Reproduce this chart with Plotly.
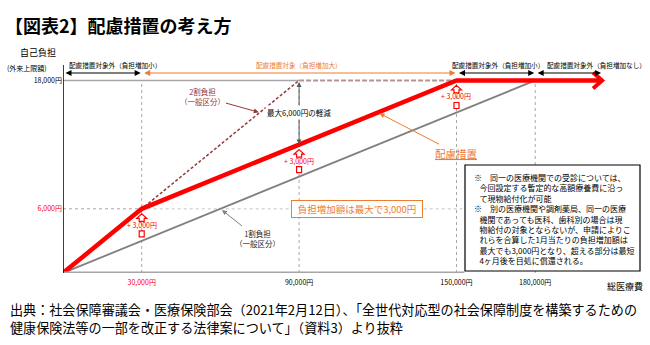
import numpy as np
import plotly.graph_objects as go

# ---- data (yen) ----
# 1割負担 (一般区分)
cost_1wari = [0, 180000]
pay_1wari = [0, 18000]
# 2割負担 (一般区分) up to the outpatient cap, then capped
cost_2wari = [0, 90000]
pay_2wari = [0, 18000]
cost_2wari_cap = [90000, 150000]
pay_2wari_cap = [18000, 18000]
# 配慮措置: 2割 until 30,000円, then 1割 + 3,000円, capped at 18,000円
cost_relief = [0, 30000, 150000, 205500]
pay_relief = [0, 6000, 18000, 18000]

outpatient_cap = 18000
relief_start = 6000
increase_cost = [30000, 90000, 150000]
increase_text = "+ 3,000円"
max_cut_cost = 90000

x_tick_vals = [30000, 90000, 150000, 180000]
x_tick_text = ["30,000円", "90,000円", "150,000円", "180,000円"]
y_tick_vals = [6000, 18000]
y_tick_text = ["6,000円", "18,000円"]

seg_x0 = [0, 30000, 150000, 180000]
seg_x1 = [30000, 150000, 180000, 205500]
seg_text = ["配慮措置対象外（負担増加小）", "配慮措置対象（負担増加大）",
            "配慮措置対象外（負担増加小）", "配慮措置対象外（負担増加なし）"]

note_lines = [
    "※　同一の医療機関での受診については、",
    "今回設定する暫定的な高額療養費に沿っ",
    "て現物給付化が可能",
    "※　別の医療機関や調剤薬局、同一の医療",
    "機関であっても医科、歯科別の場合は現",
    "物給付の対象とならないが、申請によりこ",
    "れらを合算した1月当たりの負担増加額は",
    "最大でも3,000円となり、超える部分は最短",
    "4ヶ月後を目処に償還される。",
]

# ---- layout geometry ----
W, H = 650, 345
ML, MR, MT, MB = 63, 23, 59, 72
PW, PH = W - ML - MR, H - MT - MB
X_MAX, Y_MAX = 215000, 20000

FONT = "Noto Sans CJK JP"
RED = "#FF0000"
ORANGE = "#ED7D31"
GRAY = "#7F7F7F"
DARKRED = "#953735"


def px_x(px):
    return (px - ML) / PW


def px_y(py):
    return (H - MB - py) / PH


def data_y(py):
    return (H - MB - py) / PH * Y_MAX


def relief(x):
    return float(np.interp(x, cost_relief, pay_relief))


def one_tenth(x):
    return float(np.interp(x, cost_1wari, pay_1wari))


fig = go.Figure()
shapes = []
ann = []

# guide lines
for xv in x_tick_vals:
    shapes.append(dict(type="line", xref="x", yref="y", x0=xv, x1=xv, y0=0, y1=outpatient_cap,
                       line=dict(color="#A6A6A6", width=1, dash="dot"), layer="below"))
shapes.append(dict(type="line", xref="x", yref="y", x0=0, x1=cost_2wari[-1], y0=outpatient_cap,
                   y1=outpatient_cap, line=dict(color="#A6A6A6", width=1.5), layer="below"))
shapes.append(dict(type="line", xref="x", yref="y", x0=0, x1=cost_relief[1], y0=relief_start,
                   y1=relief_start, line=dict(color="#A6A6A6", width=1, dash="dot"), layer="below"))
shapes.append(dict(type="line", xref="x", yref="y", x0=cost_relief[1], x1=154000, y0=relief_start,
                   y1=relief_start, line=dict(color="#D9D9D9", width=1.5, dash="dot"), layer="below"))

# axes
shapes.append(dict(type="line", xref="x", yref="y", x0=0, x1=153000, y0=0, y1=0,
                   line=dict(color="#A6A6A6", width=3)))
shapes.append(dict(type="line", xref="x", yref="y", x0=0, x1=0, y0=0, y1=data_y(65),
                   line=dict(color="black", width=1.5)))

# series
fig.add_trace(go.Scatter(x=cost_1wari, y=pay_1wari, mode="lines",
                         line=dict(color=GRAY, width=1.8), hoverinfo="skip"))
fig.add_trace(go.Scatter(x=cost_2wari_cap, y=pay_2wari_cap, mode="lines",
                         line=dict(color="#B39494", width=2, dash="5px,2px"), hoverinfo="skip"))
fig.add_trace(go.Scatter(x=cost_2wari, y=pay_2wari, mode="lines",
                         line=dict(color=DARKRED, width=1.5, dash="3px,2px"), hoverinfo="skip"))
fig.add_trace(go.Scatter(x=cost_relief, y=pay_relief, mode="lines",
                         line=dict(color=RED, width=4.5), hoverinfo="skip"))

# open chevron at the end of the relief line
shapes.append(dict(type="path", xsizemode="pixel", ysizemode="pixel",
                   xanchor=cost_relief[-1], yanchor=pay_relief[-1], xref="x", yref="y",
                   path="M-9,8 L0,0 L-9,-8", line=dict(color=RED, width=4)))

# +3,000円 markers between the 1割 line and the relief line
for xv in increase_cost:
    top, bottom = relief(xv), one_tenth(xv)
    shapes.append(dict(type="path", xsizemode="pixel", ysizemode="pixel", xanchor=xv, yanchor=top,
                       xref="x", yref="y",
                       path="M0,-5 L5,-9.5 L2.5,-9.5 L2.5,-12.5 L-2.5,-12.5 L-2.5,-9.5 L-5,-9.5 Z",
                       line=dict(color=RED, width=1.2), fillcolor="white"))
    shapes.append(dict(type="path", xsizemode="pixel", ysizemode="pixel", xanchor=xv, yanchor=bottom,
                       xref="x", yref="y",
                       path="M-2.5,4 L2.5,4 L2.5,10 L-2.5,10 Z",
                       line=dict(color=RED, width=1.2), fillcolor="white"))
    ann.append(dict(x=xv, y=(top + bottom) / 2, xref="x", yref="y", text=increase_text,
                    showarrow=False, font=dict(size=7, color=RED, family=FONT)))

# range brackets along the top
band_arrow_y = data_y(73)
band_text_y = data_y(65)
seg_color = ["black", ORANGE, "black", "black"]
seg_anchor = ["left", "center", "center", "left"]
seg_shift = [4, 0, 2, 10]
for x0, x1, txt, col, anc, sh in zip(seg_x0, seg_x1, seg_text, seg_color, seg_anchor, seg_shift):
    ann.append(dict(x=x1, y=band_arrow_y, ax=x0, ay=band_arrow_y, xref="x", yref="y",
                    axref="x", ayref="y", text="", showarrow=True, arrowside="end+start",
                    arrowhead=2, startarrowhead=2, arrowsize=1, startarrowsize=1,
                    arrowwidth=1.2, arrowcolor=col, standoff=1, startstandoff=1))
    xpos = x0 if anc == "left" else (x0 + x1) / 2
    ann.append(dict(x=xpos, y=band_text_y, xref="x", yref="y", text=txt, showarrow=False,
                    xanchor=anc, yanchor="middle", xshift=sh,
                    font=dict(size=6.6, color=col, family=FONT)))

# maximum reduction at 90,000円
ann.append(dict(x=max_cut_cost, y=relief(max_cut_cost), ax=max_cut_cost, ay=outpatient_cap,
                xref="x", yref="y", axref="x", ayref="y", text="", showarrow=True,
                arrowside="end+start", arrowhead=2, startarrowhead=2, arrowsize=1,
                startarrowsize=1, arrowwidth=1, arrowcolor="#595959"))
ann.append(dict(x=max_cut_cost, y=(relief(max_cut_cost) + outpatient_cap) / 2, xref="x", yref="y",
                text="最大6,000円の軽減", showarrow=False, bgcolor="white", borderpad=1,
                font=dict(size=7.5, color="black", family=FONT)))

# series labels
ann.append(dict(x=75000, y=0.2 * 75000, ax=53000, ay=16500, xref="x", yref="y", axref="x",
                ayref="y", text="2割負担<br>（一般区分）", showarrow=True, arrowhead=2,
                arrowsize=1, arrowwidth=1, arrowcolor=DARKRED, standoff=1,
                font=dict(size=7.5, color=DARKRED, family=FONT)))
ann.append(dict(x=60000, y=one_tenth(60000), ax=74000, ay=3270, xref="x", yref="y", axref="x",
                ayref="y", text="1割負担<br>（一般区分）", showarrow=True, arrowhead=2,
                arrowsize=1, arrowwidth=1, arrowcolor=GRAY, standoff=2,
                font=dict(size=7.5, color="#262626", family=FONT)))
ann.append(dict(x=120000, y=relief(120000), ax=150000, ay=11200, xref="x", yref="y", axref="x",
                ayref="y", text="<span style='text-decoration:underline'>配慮措置</span>",
                showarrow=True, arrowhead=2, arrowsize=1, arrowwidth=1, arrowcolor=ORANGE,
                standoff=2, font=dict(size=10.5, color=ORANGE, family=FONT)))

# maximum increase callout
ann.append(dict(x=112000, y=relief_start, xref="x", yref="y", text="負担増加額は最大で3,000円",
                showarrow=False, bgcolor="white", bordercolor=ORANGE, borderwidth=1,
                width=127, height=13, borderpad=1.5,
                font=dict(size=9.5, color=ORANGE, family=FONT)))

# notes box
shapes.append(dict(type="rect", xref="paper", yref="paper", x0=px_x(465), x1=px_x(640),
                   y0=px_y(271), y1=px_y(165), line=dict(color="black", width=1.2),
                   fillcolor="white"))
note_text = "<br>".join(l if l.startswith("※") else "\u00a0\u00a0\u00a0" + l for l in note_lines)
ann.append(dict(x=px_x(472), y=px_y(170), xref="paper", yref="paper", text=note_text,
                showarrow=False, xanchor="left", yanchor="top", align="left",
                font=dict(size=8, color="black", family=FONT)))


def label(px, py, text, size, **kw):
    """Free text placed by its centre in page pixels."""
    ann.append(dict(x=px_x(px), y=px_y(py), xref="paper", yref="paper", text=text,
                    showarrow=False, xanchor=kw.pop("xanchor", "center"), yanchor="middle",
                    font=dict(size=size, color="black", family=FONT), **kw))


# axis titles and source
label(38, 52, "自己負担", 9)
label(27, 68, "(外来上限額)", 7)
label(625, 286, "総医療費", 9)
label(8, 309,
      "出典：社会保障審議会・医療保険部会（2021年2月12日）、「全世代対応型の社会保障制度を構築するための",
      13.1, xanchor="left")
label(8, 327.5, "健康保険法等の一部を改正する法律案について」（資料3）より抜粋",
      13.1, xanchor="left")


def colored(labels, colors):
    return [f"<span style='color:{c}'>{t}</span>" for t, c in zip(labels, colors)]


fig.update_layout(
    width=W, height=H, autosize=False,
    margin=dict(l=ML, r=MR, t=MT, b=MB),
    paper_bgcolor="white", plot_bgcolor="white",
    showlegend=False,
    font=dict(family=FONT),
    title=dict(text="<b>【図表2】配慮措置の考え方</b>", x=5 / W, xanchor="left",
               xref="container", yref="container", y=(H - 27) / H, yanchor="middle",
               font=dict(size=18, color="black", family=FONT)),
    xaxis=dict(range=[0, X_MAX], showgrid=False, zeroline=False, showline=False,
               tickvals=x_tick_vals,
               ticktext=colored(x_tick_text, [RED, "black", "black", "black"]),
               ticks="", ticklabelstandoff=4,
               tickfont=dict(size=7, color="black", family=FONT), fixedrange=True),
    yaxis=dict(range=[0, Y_MAX], showgrid=False, zeroline=False, showline=False,
               tickvals=y_tick_vals, ticktext=colored(y_tick_text, [RED, "black"]),
               ticks="", tickfont=dict(size=7, color="black", family=FONT), fixedrange=True),
    shapes=shapes,
    annotations=ann,
)

fig.write_html("out.html")
